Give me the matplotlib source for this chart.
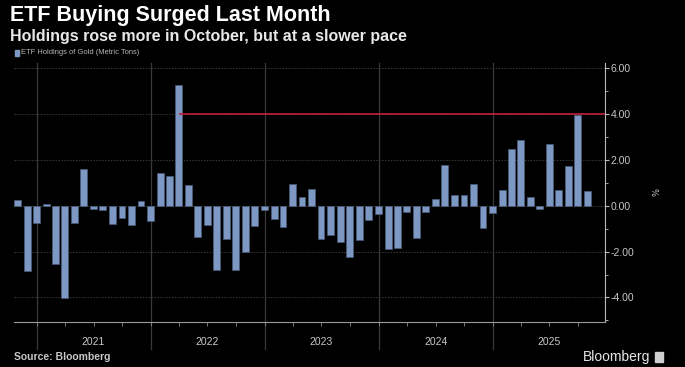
import matplotlib
matplotlib.use("Agg")
import matplotlib.pyplot as plt
import matplotlib.dates as mdates
import matplotlib.transforms as mtransforms
from matplotlib.ticker import FixedLocator, FormatStrFormatter
import pandas as pd

# monthly change of ETF gold holdings (%), Oct 2020 .. Oct 2025
start_month = '2020-10-31'
values = [
    0.25, -2.86, -0.75,                                                          # 2020 Oct-Dec
    0.09, -2.53, -4.02, -0.74, 1.60, -0.13, -0.19, -0.81, -0.55, -0.84, 0.20, -0.65,  # 2021
    1.42, 1.32, 5.30, 0.90, -1.36, -0.82, -2.82, -1.43, -2.82, -2.00, -0.87, -0.17,   # 2022
    -0.59, -0.94, 0.95, 0.38, 0.75, -1.45, -1.26, -1.59, -2.21, -1.49, -0.61, -0.36,  # 2023
    -1.88, -1.82, -0.27, -1.40, -0.27, 0.32, 1.78, 0.46, 0.46, 0.94, -0.97, -0.32,    # 2024
    0.69, 2.47, 2.89, 0.40, -0.12, 2.69, 0.69, 1.73, 3.99, 0.65,                      # 2025 Jan-Oct
]
years = ['2021', '2022', '2023', '2024', '2025']
yticks = [-4, -2, 0, 2, 4, 6]
ref_level = 4.0           # red line level
ref_from = '2022-03-31'   # red line starts at the March 2022 spike

dates = pd.date_range(start_month, periods=len(values), freq='ME')

bg = 'black'
bar_color = '#7d98c2'
grid_color = '#3a3a3a'
text_color = '#c8c8c8'

fig = plt.figure(figsize=(6.85, 3.67), dpi=100, facecolor=bg)
ax = fig.add_axes([14 / 685, 1 - 322 / 367, (605 - 14) / 685, (322 - 63) / 367], facecolor=bg)

ax.bar(dates, values, width=22, color=bar_color, edgecolor='#4a5d7c', linewidth=0.5, zorder=3)

x_left = pd.Timestamp('2020-10-19')
x_right = pd.Timestamp('2025-12-26')
ax.hlines(ref_level, pd.Timestamp(ref_from), x_right, color='#c0203c', linewidth=1.2, zorder=4)

ax.set_xlim(x_left, x_right)
ax.set_ylim(-5.07, 6.24)

# y axis on the right
ax.yaxis.tick_right()
ax.yaxis.set_major_locator(FixedLocator(yticks))
ax.yaxis.set_minor_locator(FixedLocator([-5, -3, -1, 1, 3, 5]))
ax.yaxis.set_major_formatter(FormatStrFormatter('%.2f'))
ax.tick_params(axis='y', which='major', length=3, width=0.8, colors='#bbbbbb',
               labelcolor=text_color, labelsize=7.5, pad=1)
ax.tick_params(axis='y', which='minor', length=2, width=0.6, colors='#bbbbbb')
for t in ax.get_yticklabels():
    t.set_fontfamily('Liberation Sans')
ax.grid(axis='y', color=grid_color, linestyle=(0, (1.5, 1.5)), linewidth=0.7, zorder=0)

# x axis: quarter ticks, year dividers, year labels
ax.xaxis.set_major_locator(mdates.MonthLocator(bymonth=[1, 4, 7, 10]))
ax.xaxis.set_major_formatter(plt.NullFormatter())
ax.tick_params(axis='x', length=3, width=0.6, colors='#888888')
for y in years:
    ax.axvline(pd.Timestamp(f'{y}-01-01'), ymin=-0.104, ymax=1, color=grid_color,
               linewidth=0.9, clip_on=False, zorder=1)
trans = mtransforms.blended_transform_factory(ax.transData, ax.transAxes)
for y in years:
    ax.text(pd.Timestamp(f'{y}-07-01'), -0.078, y, transform=trans, ha='center', va='center',
            color=text_color, fontsize=7.5, family='Liberation Sans')

for side in ['top', 'left']:
    ax.spines[side].set_visible(False)
ax.spines['right'].set_color('#bbbbbb')
ax.spines['bottom'].set_color('#999999')
ax.spines['right'].set_linewidth(0.8)
ax.spines['bottom'].set_linewidth(0.8)

ax.text(1.082, 0.5, '%', transform=ax.transAxes, rotation=-90, ha='center', va='center',
        color=text_color, fontsize=6)

# titles and legend
fig.text(10 / 685, 1 - 15 / 367, 'ETF Buying Surged Last Month', color='white', fontsize=15.5,
         fontweight='bold', family='Liberation Sans', va='center')
fig.text(10 / 685, 1 - 37 / 367, 'Holdings rose more in October, but at a slower pace',
         color='#e8e8e8', fontsize=11.5, fontweight='bold', family='Liberation Sans', va='center')
fig.patches.append(plt.Rectangle((15 / 685, 1 - 56 / 367), 4 / 685, 6 / 367, transform=fig.transFigure,
                                 color=bar_color))
fig.text(21 / 685, 1 - 53 / 367, 'ETF Holdings of Gold (Metric Tons)', color='#b8b8b8',
         fontsize=5.4, family='Liberation Sans', va='center')

# footer
fig.text(14 / 685, 1 - 357 / 367, 'Source: Bloomberg', color=text_color, fontsize=7.5,
         fontweight='bold', family='Liberation Sans', va='center')
fig.text(650 / 685, 1 - 357 / 367, 'Bloomberg', color='#e6e6e6', fontsize=10,
         family='Liberation Sans', ha='right', va='center')
fig.patches.append(plt.Rectangle((655 / 685, 1 - 362 / 367), 8 / 685, 10 / 367, transform=fig.transFigure,
                                 color='#cfcfcf'))

fig.savefig('out.png', dpi=100, facecolor=bg)
